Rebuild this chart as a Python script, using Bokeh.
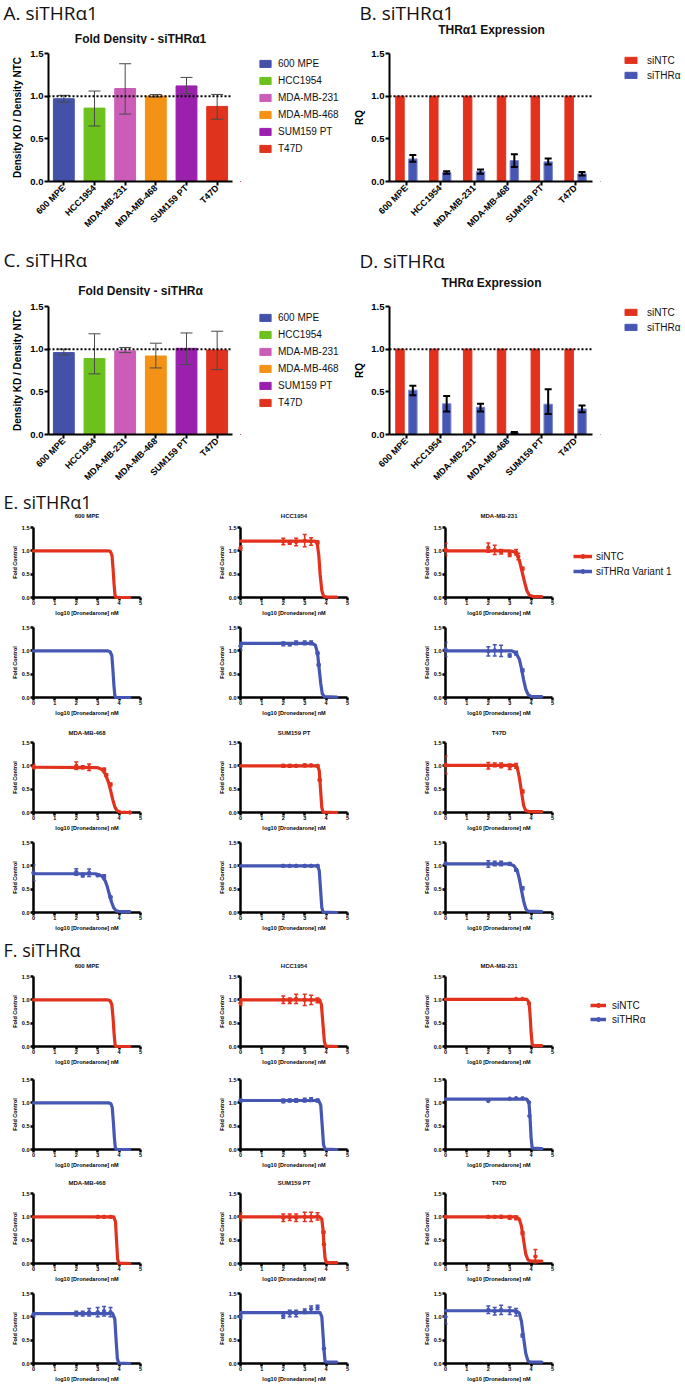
from bokeh.plotting import figure
from bokeh.layouts import column, row as brow
from bokeh.models import (ColumnDataSource, Range1d, FactorRange, FixedTicker, Span,
                          Legend, LegendItem, Whisker, TeeHead, Spacer, NumeralTickFormatter)
from bokeh.core.properties import value
from bokeh.transform import dodge
from bokeh.embed import file_html
from bokeh.resources import INLINE
import math

SANS = "Liberation Sans"
LIGHT = "Open Sans"
RED = "#E2321D"
BLUE = "#4656B3"

# ---------------- Panels A / C : fold density ----------------
CELL_LINES = ["600 MPE", "HCC1954", "MDA-MB-231", "MDA-MB-468", "SUM159 PT", "T47D"]
BAR_COLORS = ["#4351A9", "#6CC11D", "#CB5DB9", "#F39214", "#9B20AE", "#E0321C"]
A_MEAN = [0.97, 0.86, 1.09, 1.00, 1.12, 0.88]
A_LOW = [0.93, 0.65, 0.79, 0.99, 1.03, 0.73]
A_HIGH = [1.01, 1.06, 1.38, 1.02, 1.22, 1.02]
C_MEAN = [0.96, 0.89, 0.98, 0.92, 1.01, 0.99]
C_LOW = [0.93, 0.71, 0.96, 0.78, 0.82, 0.76]
C_HIGH = [1.00, 1.18, 1.02, 1.07, 1.19, 1.21]

# ---------------- Panels B / D : expression (RQ) ----------------
NTC_RQ = [1.0, 1.0, 1.0, 1.0, 1.0, 1.0]
B_KD = [0.265, 0.105, 0.115, 0.245, 0.23, 0.09]
B_KD_LOW = [0.23, 0.09, 0.09, 0.17, 0.20, 0.07]
B_KD_HIGH = [0.31, 0.12, 0.14, 0.32, 0.27, 0.11]
D_KD = [0.52, 0.36, 0.32, 0.02, 0.355, 0.30]
D_KD_LOW = [0.46, 0.27, 0.27, 0.01, 0.24, 0.26]
D_KD_HIGH = [0.57, 0.45, 0.36, 0.03, 0.53, 0.34]

# ---------------- Panels E / F : dose response ----------------
# curves: (x list, y list); points: (x, mean, sd)
E_NTC_CURVES = {
    "600 MPE": ([0, 3.5, 3.6, 3.67, 3.72, 3.77, 3.81, 3.85, 4.5], [1.0, 1.0, 0.98, 0.9, 0.6, 0.25, 0.05, 0.0, 0.0]),
    "HCC1954": ([0, 3.45, 3.58, 3.66, 3.72, 3.8, 3.88, 4.0, 4.5], [1.21, 1.21, 1.17, 0.9, 0.5, 0.15, 0.03, 0.01, 0.01]),
    "MDA-MB-231": ([0, 3.0, 3.2, 3.35, 3.46, 3.58, 3.69, 3.8, 3.92, 4.1, 4.5], [1.0, 1.0, 0.98, 0.92, 0.78, 0.55, 0.34, 0.15, 0.05, 0.02, 0.02]),
    "MDA-MB-468": ([0, 3.0, 3.2, 3.35, 3.5, 3.6, 3.7, 3.8, 3.9, 4.05, 4.5], [0.97, 0.96, 0.92, 0.83, 0.65, 0.48, 0.28, 0.12, 0.04, 0.01, 0.0]),
    "SUM159 PT": ([0, 3.6, 3.68, 3.74, 3.8, 3.86, 4.5], [1.0, 1.0, 0.9, 0.5, 0.1, 0.01, 0.0]),
    "T47D": ([0, 3.2, 3.35, 3.45, 3.55, 3.65, 3.75, 3.9, 4.5], [1.01, 1.01, 0.97, 0.75, 0.45, 0.15, 0.04, 0.02, 0.02]),
}
E_NTC_POINTS = {
    "600 MPE": ([], [], []),
    "HCC1954": ([0, 2.0, 2.3, 2.6, 3.0, 3.3, 3.6], [1.06, 1.2, 1.17, 1.19, 1.22, 1.2, 1.18], [0.05, 0.07, 0.03, 0.08, 0.13, 0.08, 0.03]),
    "MDA-MB-231": ([0, 2.0, 2.3, 2.6, 3.0, 3.3, 3.4, 3.6], [1.03, 1.07, 1.02, 0.98, 0.92, 0.97, 0.88, 0.62], [0.13, 0.1, 0.1, 0.05, 0.04, 0.06, 0.07, 0.03]),
    "MDA-MB-468": ([0, 2.0, 2.3, 2.6, 3.3, 3.4, 3.6, 4.5], [0.98, 1.0, 0.97, 0.97, 0.92, 0.8, 0.6, 0.0], [0.05, 0.08, 0.03, 0.07, 0.03, 0.03, 0.03, 0.0]),
    "SUM159 PT": ([2.0, 2.3, 2.6, 3.0, 3.3, 3.6, 3.7], [1.0, 1.0, 1.0, 1.01, 1.01, 1.0, 0.7], [0.03, 0.03, 0.02, 0.03, 0.02, 0.02, 0.02]),
    "T47D": ([0, 2.0, 2.3, 2.6, 3.0, 3.3, 3.6], [1.02, 1.0, 1.02, 1.01, 0.98, 1.0, 0.45], [0.19, 0.07, 0.04, 0.05, 0.06, 0.05, 0.03]),
}
E_KD_CURVES = {
    "600 MPE": ([0, 3.45, 3.58, 3.66, 3.71, 3.76, 3.8, 3.84, 4.5], [1.0, 1.0, 0.98, 0.9, 0.6, 0.25, 0.05, 0.0, 0.0]),
    "HCC1954": ([0, 3.35, 3.5, 3.6, 3.68, 3.75, 3.82, 3.92, 4.5], [1.16, 1.16, 1.12, 0.95, 0.6, 0.3, 0.08, 0.02, 0.01]),
    "MDA-MB-231": ([0, 3.1, 3.3, 3.45, 3.55, 3.65, 3.75, 3.85, 4.0, 4.5], [1.0, 1.0, 0.95, 0.82, 0.62, 0.38, 0.18, 0.07, 0.02, 0.02]),
    "MDA-MB-468": ([0, 2.9, 3.2, 3.35, 3.45, 3.55, 3.65, 3.75, 3.85, 4.0, 4.5], [0.83, 0.83, 0.78, 0.68, 0.55, 0.38, 0.22, 0.1, 0.04, 0.02, 0.02]),
    "SUM159 PT": ([0, 3.6, 3.68, 3.74, 3.8, 3.86, 4.5], [1.0, 1.0, 0.9, 0.5, 0.1, 0.01, 0.0]),
    "T47D": ([0, 3.0, 3.2, 3.35, 3.45, 3.55, 3.65, 3.75, 3.85, 4.5], [1.04, 1.04, 1.0, 0.9, 0.72, 0.48, 0.25, 0.08, 0.03, 0.02]),
}
E_KD_POINTS = {
    "600 MPE": ([], [], []),
    "HCC1954": ([0, 2.0, 2.3, 2.6, 3.0, 3.3, 3.6, 3.65], [1.1, 1.15, 1.14, 1.17, 1.17, 1.17, 0.95, 0.7], [0.08, 0.04, 0.03, 0.04, 0.04, 0.04, 0.02, 0.02]),
    "MDA-MB-231": ([0, 2.0, 2.3, 2.6, 3.0, 3.3, 3.6], [1.03, 0.99, 1.01, 1.0, 0.9, 0.95, 0.58], [0.15, 0.1, 0.12, 0.12, 0.03, 0.04, 0.03]),
    "MDA-MB-468": ([0, 2.0, 2.3, 2.6, 3.0, 3.3, 3.6], [0.85, 0.87, 0.8, 0.85, 0.8, 0.77, 0.33], [0.17, 0.07, 0.04, 0.08, 0.03, 0.04, 0.02]),
    "SUM159 PT": ([2.0, 2.3, 2.6, 3.0, 3.3, 3.6], [1.0, 1.0, 1.0, 1.0, 1.0, 1.0], [0.02, 0.02, 0.02, 0.02, 0.02, 0.02]),
    "T47D": ([0, 2.0, 2.3, 2.6, 3.0, 3.3, 3.6], [1.05, 1.04, 1.05, 1.05, 1.04, 0.91, 0.52], [0.02, 0.07, 0.05, 0.05, 0.03, 0.02, 0.03]),
}
F_NTC_CURVES = {
    "600 MPE": ([0, 3.45, 3.58, 3.66, 3.72, 3.77, 3.81, 3.85, 4.5], [1.0, 1.0, 0.98, 0.9, 0.6, 0.25, 0.05, 0.0, 0.0]),
    "HCC1954": ([0, 3.7, 3.78, 3.85, 3.92, 3.98, 4.5], [1.0, 1.0, 0.9, 0.5, 0.1, 0.01, 0.0]),
    "MDA-MB-231": ([0, 3.8, 3.9, 3.95, 4.0, 4.05, 4.1, 4.5], [1.01, 1.01, 0.95, 0.7, 0.3, 0.05, 0.02, 0.02]),
    "MDA-MB-468": ([0, 3.75, 3.83, 3.88, 3.93, 3.98, 4.5], [1.0, 1.0, 0.9, 0.5, 0.1, 0.01, 0.0]),
    "SUM159 PT": ([0, 3.7, 3.8, 3.86, 3.9, 3.95, 4.0, 4.1, 4.5], [1.0, 1.0, 0.95, 0.7, 0.4, 0.12, 0.03, 0.02, 0.02]),
    "T47D": ([0, 3.3, 3.45, 3.55, 3.65, 3.75, 3.85, 4.0, 4.5], [1.0, 1.0, 0.95, 0.8, 0.5, 0.2, 0.08, 0.05, 0.05]),
}
F_NTC_POINTS = {
    "600 MPE": ([], [], []),
    "HCC1954": ([0, 2.0, 2.3, 2.6, 3.0, 3.3, 3.6], [0.93, 1.0, 0.98, 1.02, 1.0, 1.0, 0.99], [0.05, 0.08, 0.06, 0.1, 0.12, 0.1, 0.05]),
    "MDA-MB-231": ([3.3, 3.6, 3.9], [1.02, 1.02, 0.92], [0.0, 0.0, 0.0]),
    "MDA-MB-468": ([3.0, 3.3, 3.6], [1.0, 1.0, 1.0], [0.02, 0.02, 0.02]),
    "SUM159 PT": ([0, 2.0, 2.3, 2.6, 3.0, 3.3, 3.6, 3.88, 3.9], [1.0, 0.98, 0.99, 0.98, 1.0, 1.0, 1.01, 0.67, 0.41], [0.08, 0.08, 0.07, 0.08, 0.1, 0.1, 0.08, 0.02, 0.02]),
    "T47D": ([0, 2.0, 2.3, 2.6, 3.0, 3.3, 3.6, 4.2], [1.0, 1.0, 1.0, 1.0, 0.99, 0.98, 0.65, 0.15], [0.02, 0.02, 0.02, 0.03, 0.04, 0.04, 0.03, 0.15]),
}
F_KD_CURVES = {
    "600 MPE": ([0, 3.5, 3.62, 3.68, 3.73, 3.78, 3.82, 3.86, 4.5], [1.0, 1.0, 0.98, 0.9, 0.6, 0.25, 0.05, 0.0, 0.0]),
    "HCC1954": ([0, 3.65, 3.75, 3.82, 3.88, 3.95, 4.5], [1.05, 1.05, 0.95, 0.5, 0.1, 0.01, 0.0]),
    "MDA-MB-231": ([0, 3.8, 3.9, 3.95, 4.0, 4.05, 4.5], [1.08, 1.08, 1.0, 0.7, 0.25, 0.03, 0.02]),
    "MDA-MB-468": ([0, 3.7, 3.8, 3.86, 3.92, 3.98, 4.5], [1.07, 1.07, 0.95, 0.5, 0.1, 0.01, 0.0]),
    "SUM159 PT": ([0, 3.72, 3.8, 3.86, 3.9, 3.95, 4.0, 4.5], [1.09, 1.09, 1.0, 0.6, 0.3, 0.05, 0.03, 0.03]),
    "T47D": ([0, 3.3, 3.45, 3.55, 3.65, 3.75, 3.85, 3.95, 4.5], [1.13, 1.13, 1.08, 0.9, 0.55, 0.22, 0.06, 0.03, 0.03]),
}
F_KD_POINTS = {
    "600 MPE": ([], [], []),
    "HCC1954": ([0, 2.0, 2.3, 2.6, 3.0, 3.3, 3.6], [1.05, 1.04, 1.05, 1.05, 1.06, 1.07, 1.05], [0.03, 0.04, 0.03, 0.04, 0.04, 0.04, 0.03]),
    "MDA-MB-231": ([2.0, 3.0, 3.3, 3.6, 3.9, 3.92], [1.04, 1.09, 1.1, 1.1, 1.01, 0.72], [0.0, 0.0, 0.0, 0.0, 0.0, 0.0]),
    "MDA-MB-468": ([0, 2.0, 2.3, 2.6, 3.0, 3.3, 3.6], [1.05, 1.07, 1.07, 1.1, 1.1, 1.12, 1.1], [0.05, 0.05, 0.05, 0.08, 0.1, 0.1, 0.1]),
    "SUM159 PT": ([0, 2.0, 2.3, 2.6, 3.0, 3.3, 3.6, 3.9], [1.0, 1.02, 1.07, 1.07, 1.12, 1.17, 1.2, 0.32], [0.04, 0.05, 0.07, 0.07, 0.05, 0.06, 0.05, 0.02]),
    "T47D": ([0, 2.0, 2.3, 2.6, 3.0, 3.3, 3.6], [1.0, 1.15, 1.12, 1.15, 1.13, 1.1, 0.6], [0.15, 0.08, 0.08, 0.1, 0.08, 0.08, 0.03]),
}

DOSE_X_TICKS = [0, 1, 2, 3, 4, 5]
FRACTION_TICKS = [0, 0.5, 1.0, 1.5]
TOP_LINES = ["600 MPE", "HCC1954", "MDA-MB-231"]
BOTTOM_LINES = ["MDA-MB-468", "SUM159 PT", "T47D"]
PAGE_W = 685


def make_fig(width, height, left, right, top, bottom, x_range, y_range, axes=True):
    kw = {} if axes else dict(x_axis_type=None, y_axis_type=None)
    p = figure(width=width, height=height, x_range=x_range, y_range=y_range,
               toolbar_location=None, output_backend="svg", title=None,
               min_border_left=left, min_border_right=right,
               min_border_top=top, min_border_bottom=bottom, **kw)
    p.outline_line_color = None
    if axes:
        p.xgrid.grid_line_color = None
        p.ygrid.grid_line_color = None
    p.border_fill_color = "white"
    p.background_fill_color = "white"
    return p


def header(height, texts):
    """Text strip; x in px from the page left, y in px from the strip top."""
    p = make_fig(PAGE_W, height, 0, 0, 0, 0, Range1d(0, PAGE_W), Range1d(height, 0), axes=False)
    for x, y, txt, size, font, style, align in texts:
        p.text(x=[x], y=[y], text=[txt], text_font=value(font), text_font_size=value(size),
               text_font_style=style, text_align=align, text_baseline="middle",
               text_color="#111111")
    return p


def style_axis(ax, lw, tick_out, lab_size, lab_standoff):
    ax.axis_line_width = lw
    ax.axis_line_color = "black"
    ax.major_tick_line_width = lw
    ax.major_tick_line_color = "black"
    ax.major_tick_out = tick_out
    ax.major_tick_in = 0
    ax.minor_tick_line_color = None
    ax.major_label_text_font = SANS
    ax.major_label_text_font_style = "bold"
    ax.major_label_text_font_size = lab_size
    ax.major_label_text_color = "black"
    ax.major_label_standoff = lab_standoff
    ax.axis_label_text_font = SANS
    ax.axis_label_text_font_style = "bold"
    ax.axis_label_text_color = "black"


def bar_axes(p, ylabel, ystand):
    style_axis(p.xaxis[0], 2, 4, "9px", 1)
    style_axis(p.yaxis[0], 2, 4, "9.5px", 1)
    p.yaxis.ticker = FixedTicker(ticks=FRACTION_TICKS)
    p.yaxis.formatter = NumeralTickFormatter(format="0.0")
    p.yaxis.axis_label = ylabel
    p.yaxis.axis_label_text_font_size = "10px"
    p.yaxis.axis_label_standoff = ystand
    p.xaxis.major_label_orientation = math.pi / 4
    p.add_layout(Span(location=1.0, dimension="width", line_color="black",
                      line_width=2, line_dash="2 2"))


def legend_fig(width, height, top, bottom, entries, loc, gw, gh, lh, spacing, stand):
    """Legend-only figure; its borders match its row neighbours so that the frames line up."""
    p = make_fig(width, height, 0, 0, top, bottom, Range1d(0, 1), Range1d(0, 1), axes=False)
    items = []
    for label, kind, color in entries:
        # key glyphs sit outside the visible range; only the legend shows them
        if kind == "bar":
            rs = [p.vbar(x=[-5], top=[-5], width=0.5, fill_color=color, line_color=color)]
        else:
            rs = [p.line(x=[-6, -5], y=[-5, -5], line_color=color, line_width=3.5),
                  p.scatter(x=[-5], y=[-5], color=color, size=4.5)]
        items.append(LegendItem(label=label, renderers=rs))
    leg = Legend(items=items, location=loc, glyph_width=gw, glyph_height=gh,
                 label_height=lh, spacing=spacing, padding=0, margin=0, label_standoff=stand,
                 border_line_color=None, background_fill_alpha=0,
                 label_text_font=SANS, label_text_font_size="10px", label_text_color="#111111")
    p.add_layout(leg)
    return p


def fold_panel(mean, low, high, height, top, bottom):
    p = make_fig(240, height, 48, 8, top, bottom,
                 FactorRange(factors=CELL_LINES), Range1d(0, 1.5))
    src = ColumnDataSource(dict(cat=CELL_LINES, mean=mean, lo=low, hi=high, color=BAR_COLORS))
    p.vbar(x="cat", top="mean", width=0.68, source=src, fill_color="color", line_color="color")
    p.add_layout(Whisker(source=src, base="cat", upper="hi", lower="lo", level="annotation",
                         line_color="#4a4a4a", line_width=1,
                         upper_head=TeeHead(size=12, line_color="#4a4a4a", line_width=1),
                         lower_head=TeeHead(size=12, line_color="#4a4a4a", line_width=1)))
    bar_axes(p, "Density KD / Density NTC", 4)
    return p


def expr_panel(kd, low, high, height, top, bottom):
    p = make_fig(260, height, 49, 8, top, bottom,
                 FactorRange(factors=CELL_LINES), Range1d(0, 1.5))
    src = ColumnDataSource(dict(cat=CELL_LINES, ntc=NTC_RQ, kd=kd, lo=low, hi=high))
    p.vbar(x=dodge("cat", -0.19, range=p.x_range), top="ntc", width=0.25,
           source=src, fill_color=RED, line_color=RED)
    p.vbar(x=dodge("cat", 0.19, range=p.x_range), top="kd", width=0.25,
           source=src, fill_color=BLUE, line_color="#7f8ad0")
    p.add_layout(Whisker(source=src, base=dodge("cat", 0.19, range=p.x_range), upper="hi",
                         lower="lo", level="annotation", line_color="black", line_width=2,
                         upper_head=TeeHead(size=7, line_color="black", line_width=2),
                         lower_head=TeeHead(size=7, line_color="black", line_width=2)))
    bar_axes(p, "RQ", 3)
    return p


COLS = [(209, 33, 69), (206, 31, 68), (150, 30, 13)]
LEG_W = 120


def dose_panel(col, rowspec, curve, pts, color):
    width, left, right = COLS[col]
    height, top, bottom = rowspec
    p = make_fig(width, height, left, right, top, bottom, Range1d(0, 5), Range1d(0, 1.5))
    style_axis(p.xaxis[0], 2.5, 3, "5.5px", 0)
    style_axis(p.yaxis[0], 2.5, 3, "5.5px", 1)
    p.xaxis.ticker = FixedTicker(ticks=DOSE_X_TICKS)
    p.yaxis.ticker = FixedTicker(ticks=FRACTION_TICKS)
    p.yaxis.formatter = NumeralTickFormatter(format="0.0")
    p.xaxis.axis_label = "log10 [Dronedarone] nM"
    p.yaxis.axis_label = "Fold Control"
    p.xaxis.axis_label_text_font_size = "5.5px"
    p.yaxis.axis_label_text_font_size = "5.5px"
    p.xaxis.axis_label_standoff = 2
    p.yaxis.axis_label_standoff = 1
    cx, cy = curve
    r = p.line(list(cx), list(cy), line_color=color, line_width=3.2,
               line_join="round", line_cap="round")
    r.level = "annotation"
    px, py, pe = pts
    if px:
        src = ColumnDataSource(dict(x=list(px), y=list(py)))
        s = p.scatter("x", "y", source=src, size=3.5, color=color)
        s.level = "annotation"
        ex = [x for x, e in zip(px, pe) if e > 0]
        ey = [y for y, e in zip(py, pe) if e > 0]
        ee = [e for e in pe if e > 0]
        if ex:
            esrc = ColumnDataSource(dict(x=ex, lo=[y - e for y, e in zip(ey, ee)],
                                         hi=[y + e for y, e in zip(ey, ee)]))
            p.add_layout(Whisker(source=esrc, base="x", upper="hi", lower="lo", level="annotation",
                                 line_color=color, line_width=1.5,
                                 upper_head=TeeHead(size=4, line_color=color, line_width=1.5),
                                 lower_head=TeeHead(size=4, line_color=color, line_width=1.5)))
    return p


BAR_LEGEND = [(c, "bar", col) for c, col in zip(CELL_LINES, BAR_COLORS)]
EXPR_LEGEND = [("siNTC", "bar", RED), ("siTHRα", "bar", BLUE)]

L = "19px"
LS = "18px"
T = "12px"
rows = []
rows.append(header(44, [
    (3, 12, "A. siTHRα1", L, LIGHT, "normal", "left"),
    (359, 12, "B. siTHRα1", L, LIGHT, "normal", "left"),
    (140, 38, "Fold Density - siTHRα1", T, SANS, "bold", "center"),
    (491, 29, "THRα1 Expression", T, SANS, "bold", "center"),
]))
# row 1: y 44..242, shared frame 53..181
rows.append(brow(
    fold_panel(A_MEAN, A_LOW, A_HIGH, 198, 9, 61),
    legend_fig(100, 198, 9, 61, BAR_LEGEND, (18, 26), 14, 9, 13, 4, 6),
    expr_panel(B_KD, B_KD_LOW, B_KD_HIGH, 198, 9, 61),
    legend_fig(85, 198, 9, 61, EXPR_LEGEND, (23, 100), 15, 8, 12, 3, 9),
))
rows.append(header(54, [
    (3, 17, "C. siTHRα", L, LIGHT, "normal", "left"),
    (359, 18, "D. siTHRα", L, LIGHT, "normal", "left"),
    (140, 48, "Fold Density - siTHRα", T, SANS, "bold", "center"),
    (491, 40, "THRα Expression", T, SANS, "bold", "center"),
]))
# row 2: y 296..490, shared frame 306..434
rows.append(brow(
    fold_panel(C_MEAN, C_LOW, C_HIGH, 194, 10, 56),
    legend_fig(100, 194, 10, 56, BAR_LEGEND, (18, 25), 14, 9, 13, 4, 6),
    expr_panel(D_KD, D_KD_LOW, D_KD_HIGH, 194, 10, 56),
    legend_fig(85, 194, 10, 56, EXPR_LEGEND, (23, 101), 15, 8, 12, 3, 9),
))

TITLE_X = [86.5, 293.5, 498.5]
SECTIONS = [
    dict(letter="E. siTHRα1", letter_y=11, head1=31, t1=25, head2=15, t2=10,
         curves=(E_NTC_CURVES, E_KD_CURVES), points=(E_NTC_POINTS, E_KD_POINTS),
         rows=[(101, 6, 25), (100, 5, 25), (101, 5, 26), (100, 4, 26)],
         legend=(["siNTC", "siTHRα Variant 1"], (8, 20), 19, 4, 3)),
    dict(letter="F. siTHRα", letter_y=11, head1=32, t1=27, head2=13, t2=8,
         curves=(F_NTC_CURVES, F_KD_CURVES), points=(F_NTC_POINTS, F_KD_POINTS),
         rows=[(102, 6, 26), (102, 7, 25), (101, 6, 25), (97, 5, 22)],
         legend=(["siNTC", "siTHRα"], (25, 21), 16, 6, 2)),
]

for sec in SECTIONS:
    for ri in range(4):
        lines = TOP_LINES if ri < 2 else BOTTOM_LINES
        series = ri % 2
        if series == 0:
            texts = [(TITLE_X[i], sec["t1"] if ri == 0 else sec["t2"], c, "6px", SANS, "bold", "center")
                     for i, c in enumerate(lines)]
            if ri == 0:
                texts.append((3, sec["letter_y"], sec["letter"], LS, LIGHT, "normal", "left"))
            rows.append(header(sec["head1"] if ri == 0 else sec["head2"], texts))
        rowspec = sec["rows"][ri]
        figs = [dose_panel(ci, rowspec, sec["curves"][series][c], sec["points"][series][c],
                           RED if series == 0 else BLUE)
                for ci, c in enumerate(lines)]
        if ri == 0:
            labels, loc, gw, stand, spacing = sec["legend"]
            figs.append(legend_fig(LEG_W, rowspec[0], rowspec[1], rowspec[2],
                                   [(labels[0], "line", RED), (labels[1], "line", BLUE)],
                                   loc, gw, 10, 12, spacing, stand))
        else:
            figs.append(Spacer(width=LEG_W, height=rowspec[0]))
        rows.append(brow(*figs))

page = column(*rows)
open("out.html", "w").write(file_html(page, INLINE))
